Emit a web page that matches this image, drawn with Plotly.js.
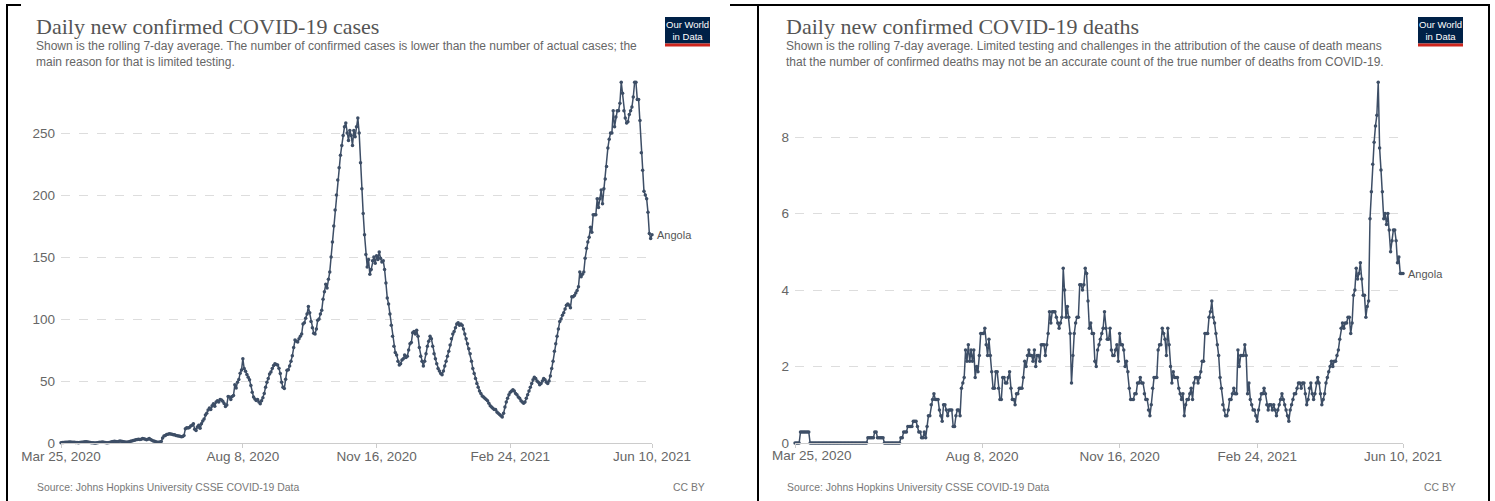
<!DOCTYPE html>
<html><head><meta charset="utf-8">
<script src="https://cdn.plot.ly/plotly-3.0.1.min.js"></script>
<style>html,body{margin:0;padding:0;background:#fff;overflow:hidden;} #chart{width:1495px;height:501px;}</style>
</head><body><div id="chart"></div>
<script>
// ---------- DATA ----------
const startDate = '2020-03-25';
const countryName = 'Angola';
const casesTitle = 'Daily new confirmed COVID-19 cases';
const deathsTitle = 'Daily new confirmed COVID-19 deaths';
const casesSubtitle = 'Shown is the rolling 7-day average. The number of confirmed cases is lower than the number of actual cases; the<br>main reason for that is limited testing.';
const deathsSubtitle = 'Shown is the rolling 7-day average. Limited testing and challenges in the attribution of the cause of death means<br>that the number of confirmed deaths may not be an accurate count of the true number of deaths from COVID-19.';
const sourceText = 'Source: Johns Hopkins University CSSE COVID-19 Data';
const licenseText = 'CC BY';
const tickDates = ['2020-03-25','2020-08-08','2020-11-16','2021-02-24','2021-06-10'];
const tickLabels = ['Mar 25, 2020','Aug 8, 2020','Nov 16, 2020','Feb 24, 2021','Jun 10, 2021'];
const casesTicks = [0,50,100,150,200,250];
const deathsTicks = [0,2,4,6,8];

// daily 7-day average of new cases, from 2020-03-25
const cases = [
0.3,0.4,0.4,0.6,0.6,0.7,0.9,0.9,0.7,0.6,
0.6,0.4,0.4,0.3,0.4,0.6,0.7,0.9,1.0,1.0,
0.9,0.7,0.4,0.3,0.3,0.1,0.1,0.3,0.4,0.6,
0.7,0.9,0.6,0.4,0.3,0.3,0.4,0.7,1.0,1.3,
1.4,1.3,1.1,1.3,1.6,1.4,1.3,1.0,0.9,0.7,
0.9,1.1,1.4,1.7,2.0,2.3,2.7,2.9,3.0,2.9,
3.1,3.6,3.4,3.0,2.7,3.1,3.6,2.9,2.3,1.7,
1.4,1.0,0.6,0.7,0.9,1.3,4.0,5.6,6.1,6.9,
7.1,7.4,7.3,7.0,6.7,6.6,6.0,5.9,5.7,5.4,
5.1,5.3,6.1,11.4,12.3,12.0,12.6,13.7,14.4,15.6,
11.0,10.1,13.0,14.3,11.9,15.6,17.7,19.3,22.6,24.0,
26.6,28.3,27.0,30.0,31.6,29.6,33.0,34.1,33.0,35.0,
34.6,33.7,31.9,29.4,30.7,37.4,37.0,35.1,37.6,38.3,
47.0,44.4,49.0,51.3,56.3,58.9,67.9,60.0,57.9,55.3,
53.0,51.0,46.4,41.0,37.0,35.4,34.3,35.0,33.0,31.6,
34.0,36.4,40.0,45.0,49.0,52.0,55.6,57.3,60.0,62.6,
64.0,63.4,63.0,60.3,56.0,49.0,45.0,44.0,51.4,58.6,
59.0,62.0,66.0,70.3,77.0,83.0,82.0,81.4,84.0,86.0,
88.0,96.0,97.0,100.6,104.0,110.0,105.0,98.0,93.0,88.6,
88.0,92.0,99.0,100.0,104.0,107.0,116.0,122.0,128.0,125.0,
132,138,150,162,175,188,200,212,222,232,
240,248,255,258,250,244,252,248,240,252,
247,255,262,250,226,205,185,168,152,142,
148,136,140,147,150,145,151,148,154,149,
146,147,140,129,117,112,104,95,86,78,
73,71,66,63,64,67,68,71,69,70,
75,80,81,89,90,88,91,86,77,70,
66,62,66,72,78,82,86,84,78,72,
68,64,60,58,56,55,58,62,66,70,
74,79,84,88,90,93,96,97,95,96,
95,92,88,84,80,76,72,66,60,56,
52,48,45,42,40,38,37,36,35,34,
32,30,29,28,27,27,25,24,23,22,
21,24,29,33,36,39,41,42,43,42,
40,39,37,36,34,33,32,33,36,39,
42,45,48,51,53,52,50,49,47,48,
50,52,51,49,48,50,54,60,66,74,
80,86,92,98,100,103,105,108,111,112,
111,109,118,118,119,121,123,126,138,134,
136,138,149,157,162,166,174,170,184,184,
184,197,190,197,204,193,205,213,223,238,
245,250,250,268,255,263,268,268,274,291,
282,268,262,258,259,265,268,271,279,291,
291,277,277,260,234,220,203,200,197,186,
169,165,168
];

// daily 7-day average of new deaths, from 2020-03-25
const deaths = [
0,0,0,0,0.29,0.29,0.29,0.29,0.29,0.29,
0.29,0,0,0,0,0,0,0,0,0,
0,0,0,0,0,0,0,0,0,0,
0,0,0,0,0,0,0,0,0,0,
0,0,0,0,0,0,0,0,0,0,
0,0,0,0.14,0.14,0.14,0.14,0.14,0.29,0.29,
0.14,0.14,0.14,0.14,0.14,0,0,0,0,0,
0,0,0,0,0,0,0,0.14,0.14,0.29,
0.29,0.29,0.43,0.43,0.43,0.43,0.57,0.57,0.57,0.43,
0.29,0.29,0.14,0.14,0.29,0.14,0.43,0.71,0.71,1.0,
1.14,1.29,1.14,1.14,1.14,0.86,0.71,0.57,1.0,1.0,
0.86,0.71,0.86,0.86,0.86,0.43,0.43,0.71,0.86,0.86,
0.71,1.43,1.57,1.71,2.43,2.14,2.57,2.14,2.43,2.14,
2.43,1.71,2.0,1.86,2.29,2.86,2.86,2.86,3.0,2.57,
2.29,2.71,2.29,1.86,1.43,1.43,1.86,1.86,1.43,1.14,
1.14,1.71,1.71,1.57,1.57,1.71,1.86,1.43,1.14,1.14,
1.0,1.29,1.29,1.43,1.43,1.43,1.71,2.14,2.0,2.29,
2.43,2.29,2.29,2.14,2.43,2.0,2.29,2.29,2.14,2.57,
2.57,2.57,2.29,2.57,2.86,3.43,3.14,3.43,3.43,3.43,
3.29,3.14,3.0,3.14,3.29,4.57,4.0,3.29,3.57,3.29,
2.86,1.57,2.29,2.86,3.14,3.29,3.29,4.14,4.14,4.0,
4.14,4.57,4.43,3.71,3.0,3.14,2.86,2.86,2.14,2.0,
2.43,2.57,2.71,2.86,3.0,3.43,3.0,2.71,2.71,3.0,
2.43,2.29,2.29,2.43,2.57,2.14,2.86,2.57,2.57,2.43,
2.0,2.14,1.86,1.43,1.14,1.14,1.14,1.29,1.29,1.57,
1.57,1.71,1.57,1.57,1.29,1.14,1.14,0.86,0.71,1.0,
1.43,1.71,1.71,1.71,2.43,2.57,2.57,3.0,2.86,2.71,
2.29,3.0,2.57,2.0,1.57,1.86,1.71,1.71,1.71,1.43,
1.29,1.14,1.29,0.71,1.0,1.14,1.14,1.29,1.43,1.14,
1.57,1.71,1.71,1.57,1.71,1.86,2.14,2.14,2.86,2.86,
2.86,3.29,3.43,3.71,3.29,3.14,2.86,2.57,2.29,1.71,
1.43,1.0,0.86,0.71,0.71,0.86,1.14,1.14,1.29,1.43,
1.29,1.29,2.43,2.0,2.29,2.29,2.29,2.57,2.29,1.29,
1.57,1.14,1.0,0.86,0.86,0.71,0.57,0.86,1.14,1.29,
1.29,1.43,1.29,1.0,0.86,1.0,1.0,0.86,1.0,0.86,
0.71,0.86,1.0,1.14,1.29,1.14,1.0,0.86,0.71,0.57,
0.86,1.0,1.14,1.29,1.29,1.43,1.57,1.57,1.43,1.57,
1.57,1.29,1.0,1.14,1.43,1.57,1.29,1.14,1.29,1.57,
1.71,1.57,1.29,1.0,1.14,1.29,1.57,1.71,1.86,2.0,
2.14,2.0,2.14,2.14,2.29,2.43,2.71,3.0,3.14,3.0,
3.14,3.14,3.29,3.29,2.86,3.14,3.86,4.0,4.57,4.29,
4.43,4.71,4.29,3.86,3.86,3.29,3.57,3.71,5.86,6.57,
7.29,7.86,8.29,8.57,9.43,7.71,7.14,6.57,5.86,6.0,
5.71,6.0,5.57,5.0,5.29,5.57,5.57,5.29,4.71,4.86,
4.43,4.43,4.43
];

// ---------- BUILD ----------
function dailyDates(start, n) {
  const p = start.split('-').map(Number);
  const t0 = Date.UTC(p[0], p[1]-1, p[2]);
  const out = [];
  for (let i = 0; i < n; i++) out.push(new Date(t0 + i*86400000).toISOString().slice(0,10));
  return out;
}
const casesDates = dailyDates(startDate, cases.length);
const deathsDates = dailyDates(startDate, deaths.length);

const W = 1495, H = 501;
const fx = px => px / W;
const fy = py => 1 - py / H;

const LINE = '#3d4e66';
const SANS = 'Liberation Sans, Arial, sans-serif';
const SERIF = 'Liberation Serif, Times New Roman, serif';
const TICKFONT = {family: SANS, size: 13.5, color: '#666'};

function series(x, y, xa, ya) {
  return {x, y, xaxis: xa, yaxis: ya, type: 'scatter', mode: 'lines+markers',
    line: {color: LINE, width: 1.5}, marker: {color: LINE, size: 3.5},
    hoverinfo: 'skip', showlegend: false, cliponaxis: false};
}

const xCommon = {type: 'date', range: [startDate, tickDates[tickDates.length-1]],
  tickmode: 'array', tickvals: tickDates,
  showgrid: false, zeroline: false, showline: true, linecolor: '#ccc', linewidth: 1,
  ticks: 'outside', ticklen: 4, tickcolor: '#ccc', ticklabelstandoff: -3,
  tickfont: TICKFONT, fixedrange: true};
const yCommon = {tickmode: 'array', showgrid: true, gridcolor: '#ddd', griddash: 'dash', gridwidth: 1,
  zeroline: false, showline: false, ticks: '', ticklabelstandoff: 5,
  tickfont: TICKFONT, fixedrange: true};

// right panel: first date label is kept inside the panel (drawn separately)
const ticktext2 = tickLabels.map((t, i) => i === 0 ? '' : t);

const yBot = 443, yTop = 77;
const layout = {
  width: W, height: H, margin: {l:0, r:0, t:0, b:0},
  paper_bgcolor: '#fff', plot_bgcolor: '#fff', showlegend: false,
  xaxis: Object.assign({}, xCommon, {domain: [fx(61), fx(652)], anchor: 'y', ticktext: tickLabels}),
  yaxis: Object.assign({}, yCommon, {domain: [fy(yBot), fy(yTop)], anchor: 'x',
     range: [0, (yBot - yTop) / 1.24], tickvals: casesTicks}),
  xaxis2: Object.assign({}, xCommon, {domain: [fx(795), fx(1403)], anchor: 'y2', ticktext: ticktext2}),
  yaxis2: Object.assign({}, yCommon, {domain: [fy(yBot), fy(yTop)], anchor: 'x2',
     range: [0, (yBot - yTop) / 38.25], tickvals: deathsTicks}),
  annotations: [], shapes: []
};

function panel(x0, right, title, subtitle, logoX0) {
  const A = layout.annotations, S = layout.shapes;
  A.push({xref:'paper', yref:'paper', x: fx(x0), y: fy(27), xanchor:'left', yanchor:'middle', showarrow:false,
    text: title, font: {family: SERIF, size: 22, color: '#555'}});
  A.push({xref:'paper', yref:'paper', x: fx(x0), y: fy(53.5), xanchor:'left', yanchor:'middle', showarrow:false, align:'left',
    text: subtitle, font: {family: SANS, size: 12, color: '#666'}});
  A.push({xref:'paper', yref:'paper', x: fx(x0+1), y: fy(487), xanchor:'left', yanchor:'middle', showarrow:false,
    text: sourceText, font: {family: SANS, size: 10.4, color: '#777'}});
  A.push({xref:'paper', yref:'paper', x: fx(right), y: fy(487), xanchor:'right', yanchor:'middle', showarrow:false,
    text: licenseText, font: {family: SANS, size: 10.4, color: '#777'}});
  S.push({type:'rect', xref:'paper', yref:'paper', x0: fx(logoX0), x1: fx(logoX0+45), y0: fy(43.5), y1: fy(17),
    fillcolor:'#002147', line:{width:0}, layer:'above'});
  S.push({type:'rect', xref:'paper', yref:'paper', x0: fx(logoX0), x1: fx(logoX0+45), y0: fy(46.5), y1: fy(43.5),
    fillcolor:'#ce261e', line:{width:0}, layer:'above'});
  A.push({xref:'paper', yref:'paper', x: fx(logoX0+22.5), y: fy(30), xanchor:'center', yanchor:'middle', showarrow:false,
    text: 'Our World<br>in Data', font: {family: SANS, size: 9.5, color: '#fff'}});
}
panel(34, 707, casesTitle, casesSubtitle, 665);
panel(784, 1458, deathsTitle, deathsSubtitle, 1418);

// first date label of the right panel, clamped to the panel's left bound
layout.annotations.push({xref:'paper', yref:'paper', x: fx(770), y: fy(455.5), xanchor:'left', yanchor:'middle',
  showarrow:false, text: tickLabels[0], font: TICKFONT});

// series end labels
layout.annotations.push({xref:'x', yref:'y', x: casesDates[casesDates.length-1], y: cases[cases.length-1],
  xanchor:'left', yanchor:'middle', xshift: 3, showarrow:false, text: countryName,
  font:{family: SANS, size: 11, color: '#555'}});
layout.annotations.push({xref:'x2', yref:'y2', x: deathsDates[deathsDates.length-1], y: deaths[deaths.length-1],
  xanchor:'left', yanchor:'middle', xshift: 3, showarrow:false, text: countryName,
  font:{family: SANS, size: 11, color: '#555'}});

// frame lines of the composite picture
const frame = [
  [7, 5, 7, H], [758, 5, 758, H], [1489, 5, 1489, H],
  [6, 5, 21, 5], [730, 5, 1490, 5]
];
frame.forEach(f => layout.shapes.push({type:'line', xref:'paper', yref:'paper',
  x0: fx(f[0]), y0: fy(f[1]), x1: fx(f[2]), y1: fy(f[3]), line:{color:'#000', width:2}}));

const data = [series(casesDates, cases, 'x', 'y'), series(deathsDates, deaths, 'x2', 'y2')];
Plotly.newPlot('chart', data, layout, {staticPlot: true, displayModeBar: false});
</script>
</body></html>
